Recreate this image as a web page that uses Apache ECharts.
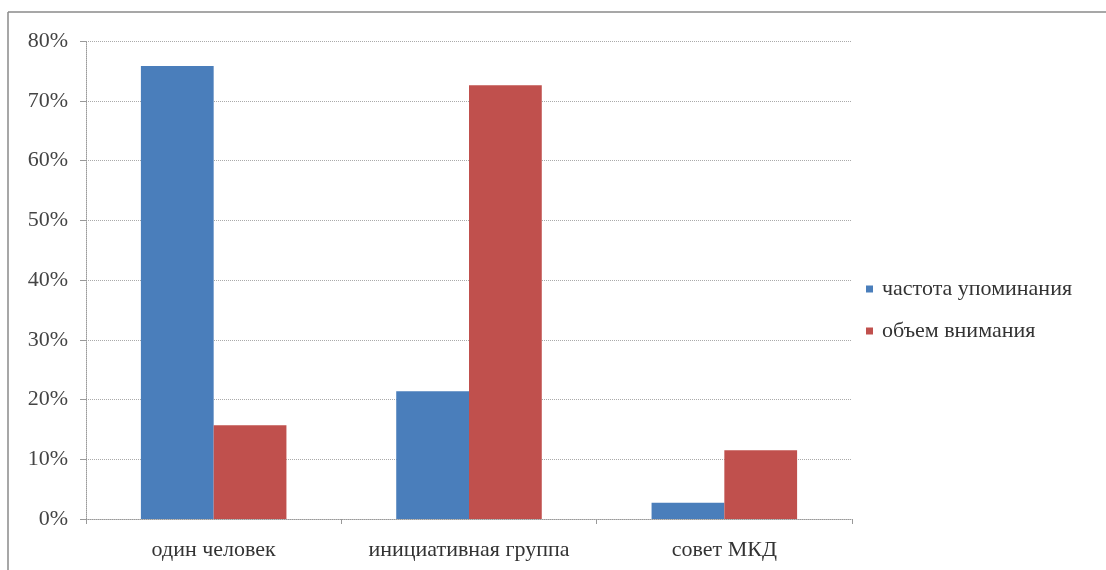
<!DOCTYPE html>
<html>
<head>
<meta charset="utf-8">
<script src="https://cdn.jsdelivr.net/npm/echarts@6/dist/echarts.min.js"></script>
<style>
html, body { margin: 0; padding: 0; background: #fff; }
#chart { width: 1106px; height: 570px; }
</style>
</head>
<body>
<div id="chart"></div>
<script>
// Categories and series values (shares, 0..1)
const categories = ['один человек', 'инициативная группа', 'совет МКД'];
const seriesNames = ['частота упоминания', 'объем внимания'];
const mentionFreq = [0.758, 0.214, 0.027];
const attentionVol = [0.157, 0.726, 0.115];
const yTicks = [0, 0.1, 0.2, 0.3, 0.4, 0.5, 0.6, 0.7, 0.8];

const chart = echarts.init(document.getElementById('chart'));
const font = '"Liberation Serif", "DejaVu Serif", serif';

chart.setOption({
  animation: false,
  textStyle: { fontFamily: font },
  graphic: [
    { type: 'line', shape: { x1: 8, y1: 12, x2: 1106, y2: 12 }, style: { stroke: '#8a8a8a', lineWidth: 1.5 } },
    { type: 'line', shape: { x1: 8, y1: 12, x2: 8, y2: 570 }, style: { stroke: '#8a8a8a', lineWidth: 1.5 } }
  ],
  grid: { left: 86, right: 254, top: 41, bottom: 51 },
  legend: {
    orient: 'vertical',
    left: 861,
    top: 273,
    itemWidth: 7,
    itemHeight: 7,
    itemGap: 20,
    icon: 'rect',
    textStyle: { fontFamily: font, fontSize: 22, color: '#333', padding: [0, 0, 0, 4] },
    data: seriesNames
  },
  xAxis: {
    type: 'category',
    data: categories,
    axisLine: { lineStyle: { color: '#999', type: 'dotted' } },
    axisTick: { show: true, length: 5, interval: 0, lineStyle: { color: '#999' } },
    axisLabel: { interval: 0, margin: 20, fontSize: 22, color: '#333', fontFamily: font }
  },
  yAxis: {
    type: 'value',
    min: yTicks[0],
    max: yTicks[yTicks.length - 1],
    interval: 0.1,
    axisLine: { show: true, lineStyle: { color: '#999', type: 'dotted' } },
    axisTick: { show: true, length: 6, lineStyle: { color: '#999' } },
    axisLabel: {
      margin: 18, fontSize: 22, color: '#444', fontFamily: font,
      formatter: v => Math.round(v * 100) + '%'
    },
    splitLine: { lineStyle: { color: '#aaa', type: 'dotted' } }
  },
  series: [
    {
      name: seriesNames[0], type: 'bar', data: mentionFreq,
      barGap: '0%', barCategoryGap: '43%',
      itemStyle: { color: '#4a7ebb' }
    },
    {
      name: seriesNames[1], type: 'bar', data: attentionVol,
      barGap: '0%', barCategoryGap: '43%',
      itemStyle: { color: '#c0504d' }
    }
  ]
});
</script>
</body>
</html>
